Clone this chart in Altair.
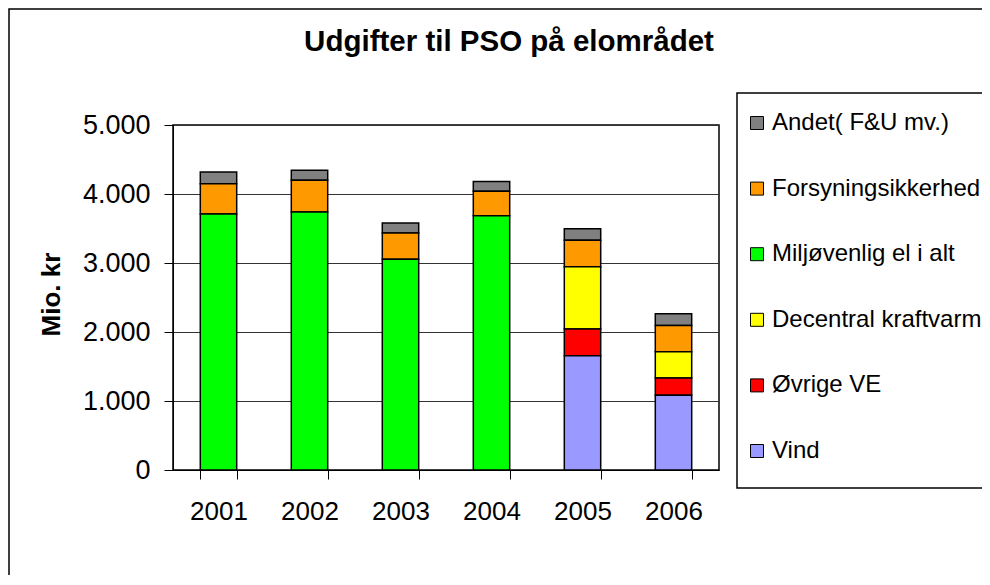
import altair as alt
import pandas as pd

years = ["2001", "2002", "2003", "2004", "2005", "2006"]
series = ["Andet( F&U mv.)", "Forsyningsikkerhed", "Miljøvenlig el i alt",
          "Decentral kraftvarme", "Øvrige VE", "Vind"]
colors = ["#808080", "#FF9900", "#00FF00", "#FFFF00", "#FF0000", "#9999FF"]

andet = [170, 145, 145, 140, 165, 170]
forsyning = [440, 460, 380, 355, 385, 380]
miljo = [3710, 3740, 3055, 3685, 0, 0]
decentral = [0, 0, 0, 0, 900, 380]
ovrige = [0, 0, 0, 0, 390, 250]
vind = [0, 0, 0, 0, 1655, 1085]

y_ticks = [0, 1000, 2000, 3000, 4000, 5000]

values = [andet, forsyning, miljo, decentral, ovrige, vind]
rows = []
for s_i, (name, vals) in enumerate(zip(series, values)):
    for yr, v in zip(years, vals):
        if v > 0:
            rows.append({"aar": yr, "serie": name, "value": v,
                         "stack": len(series) - 1 - s_i})
df = pd.DataFrame(rows)

FONT = "Liberation Sans"

one = pd.DataFrame({"a": [0]})

# outer chart frame (decoration)
frame = alt.Chart(one).mark_rect(
    filled=False, stroke="black", strokeWidth=1.5
).encode(
    x=alt.value(-164), x2=alt.value(900),
    y=alt.value(-116), y2=alt.value(500)
)

# legend box (decoration)
legend_box = alt.Chart(one).mark_rect(
    fill="white", stroke="black", strokeWidth=1.5
).encode(
    x=alt.value(564), x2=alt.value(900),
    y=alt.value(-32), y2=alt.value(363)
)

bars = alt.Chart(df).mark_bar(stroke="black", strokeWidth=1.5).encode(
    x=alt.X("aar:N", sort=years,
            scale=alt.Scale(paddingInner=0.6, paddingOuter=0.3),
            axis=alt.Axis(title=None, labelAngle=0, labelFontSize=26,
                          labelFont=FONT, labelColor="black",
                          tickBand="extent", tickSize=9, tickColor="black",
                          domainColor="black", labelPadding=19, grid=False)),
    y=alt.Y("value:Q", stack="zero",
            scale=alt.Scale(domain=[0, 5000], nice=False),
            axis=alt.Axis(title="Mio. kr", values=y_ticks,
                          labelExpr="replace(format(datum.value, ','), ',', '.')",
                          labelFontSize=27, labelFont=FONT, labelColor="black",
                          tickSize=9, tickColor="black", domainColor="black",
                          labelPadding=14, gridColor="#333333",
                          titleFontSize=26, titleFont=FONT, titleFontWeight="bold",
                          titleColor="black", titleAngle=270, titleX=-122,
                          titleY=169, titleAlign="center",
                          titleBaseline="middle")),
    color=alt.Color("serie:N",
                    scale=alt.Scale(domain=series, range=colors),
                    legend=alt.Legend(title=None, orient="none",
                                      legendX=572, legendY=-14,
                                      direction="vertical",
                                      symbolType="square", symbolSize=169,
                                      symbolStrokeColor="black",
                                      symbolStrokeWidth=1,
                                      labelFontSize=24, labelFont=FONT,
                                      labelColor="black", labelOffset=3,
                                      rowPadding=41.6, padding=0,
                                      labelLimit=400)),
    order=alt.Order("stack:Q", sort="ascending"),
)

chart = alt.layer(frame, legend_box, bars).properties(
    width=546, height=345,
    autosize=alt.AutoSizeParams(type="none"),
    padding={"left": 165, "top": 117, "right": 263, "bottom": 105},
    title=alt.Title("Udgifter til PSO på elområdet", fontSize=29.5, font=FONT,
                    fontWeight="bold", color="black", anchor="middle",
                    frame="group", dx=63, offset=0, dy=49),
).configure_view(stroke="black", strokeWidth=1.5)

chart.save("out.html", embed_options={"renderer": "svg", "actions": False})
